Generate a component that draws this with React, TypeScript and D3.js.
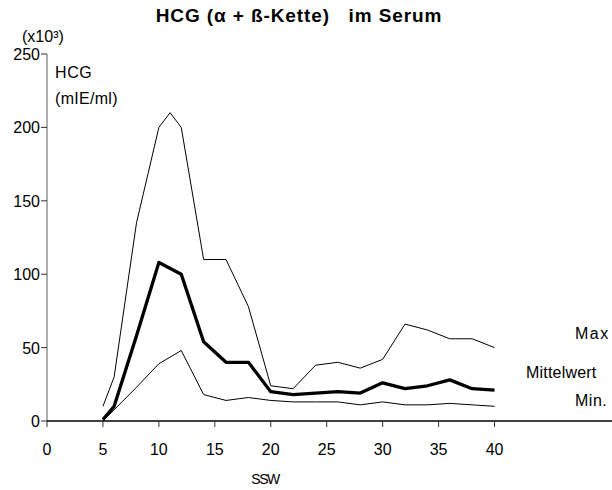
import React from "react";
import * as d3 from "d3";

// Schwangerschaftswochen (SSW) and HCG values in thousands of mIE/ml
const weeksMax = [5, 6, 8, 10, 11, 12, 14, 16, 18, 20, 22, 24, 26, 28, 30, 32, 34, 36, 38, 40];
const maxValues = [10, 30, 135, 200, 210, 200, 110, 110, 78, 24, 22, 38, 40, 36, 42, 66, 62, 56, 56, 50];

const weeksMean = [5, 6, 8, 10, 12, 14, 16, 18, 20, 22, 24, 26, 28, 30, 32, 34, 36, 38, 40];
const meanValues = [1, 10, 58, 108, 100, 54, 40, 40, 20, 18, 19, 20, 19, 26, 22, 24, 28, 22, 21];

const weeksMin = [5, 8, 10, 12, 14, 16, 18, 20, 22, 24, 26, 28, 30, 32, 34, 36, 38, 40];
const minValues = [0, 23, 39, 48, 18, 14, 16, 14, 13, 13, 13, 11, 13, 11, 11, 12, 11, 10];

const xTicks = [0, 5, 10, 15, 20, 25, 30, 35, 40];
const yTicks = [0, 50, 100, 150, 200, 250];

const FONT = "'Liberation Sans', Arial, sans-serif";

export default function App() {
  const width = 612;
  const height = 490;
  const x = d3.scaleLinear().domain([0, 50.5]).range([47, 612]);
  const y = d3.scaleLinear().domain([0, 250]).range([421, 54]);

  const line = d3
    .line<[number, number]>()
    .x((d) => x(d[0]))
    .y((d) => y(d[1]));

  const toPts = (xs: number[], vs: number[]) => xs.map((w, i) => [w, vs[i]] as [number, number]);

  return (
    <svg
      width={width}
      height={height}
      style={{ position: "absolute", left: 0, top: 0, background: "#fff" }}
      fontFamily={FONT}
    >
      <rect x={0} y={0} width={width} height={height} fill="#fff" />
      <text
        x={299}
        y={22}
        textAnchor="middle"
        fontSize={19}
        fontWeight="bold"
        letterSpacing={0.9}
        style={{ whiteSpace: "pre" }}
      >
        {"HCG (α + ß-Kette)   im Serum"}
      </text>
      <text x={22} y={42} fontSize={16}>
        (x10³)
      </text>
      <text x={55} y={78} fontSize={16} letterSpacing={0.6}>
        HCG
      </text>
      <text x={55} y={104} fontSize={16} letterSpacing={0.3}>
        (mIE/ml)
      </text>

      {/* y axis */}
      <line x1={x(0)} x2={x(0)} y1={y(250)} y2={y(0)} stroke="#777" strokeWidth={1.2} />
      {yTicks.map((t) => (
        <g key={t}>
          <line x1={x(0) - 6} x2={x(0)} y1={y(t)} y2={y(t)} stroke="#333" />
          <text x={x(0) - 7} y={y(t) + 6} textAnchor="end" fontSize={16}>
            {t}
          </text>
        </g>
      ))}

      {/* x axis */}
      <line x1={x(0)} x2={612} y1={y(0)} y2={y(0)} stroke="#000" strokeWidth={1.3} />
      {xTicks.map((t) => (
        <g key={t}>
          <line x1={x(t)} x2={x(t)} y1={y(0)} y2={y(0) + 6} stroke="#333" />
          <text x={x(t)} y={y(0) + 34} textAnchor="middle" fontSize={16}>
            {t}
          </text>
        </g>
      ))}
      <text x={265} y={484} textAnchor="middle" fontSize={14} letterSpacing={-1.5}>
        SSW
      </text>

      {/* series */}
      <path d={line(toPts(weeksMax, maxValues)) ?? ""} fill="none" stroke="#000" strokeWidth={1} />
      <path d={line(toPts(weeksMin, minValues)) ?? ""} fill="none" stroke="#000" strokeWidth={1} />
      <path
        d={line(toPts(weeksMean, meanValues)) ?? ""}
        fill="none"
        stroke="#000"
        strokeWidth={3.3}
        strokeLinejoin="round"
      />

      <text x={575} y={339} fontSize={16} letterSpacing={1.5}>
        Max
      </text>
      <text x={526} y={378} fontSize={16} letterSpacing={0.2}>
        Mittelwert
      </text>
      <text x={575} y={406} fontSize={16} letterSpacing={0.5}>
        Min.
      </text>
    </svg>
  );
}
